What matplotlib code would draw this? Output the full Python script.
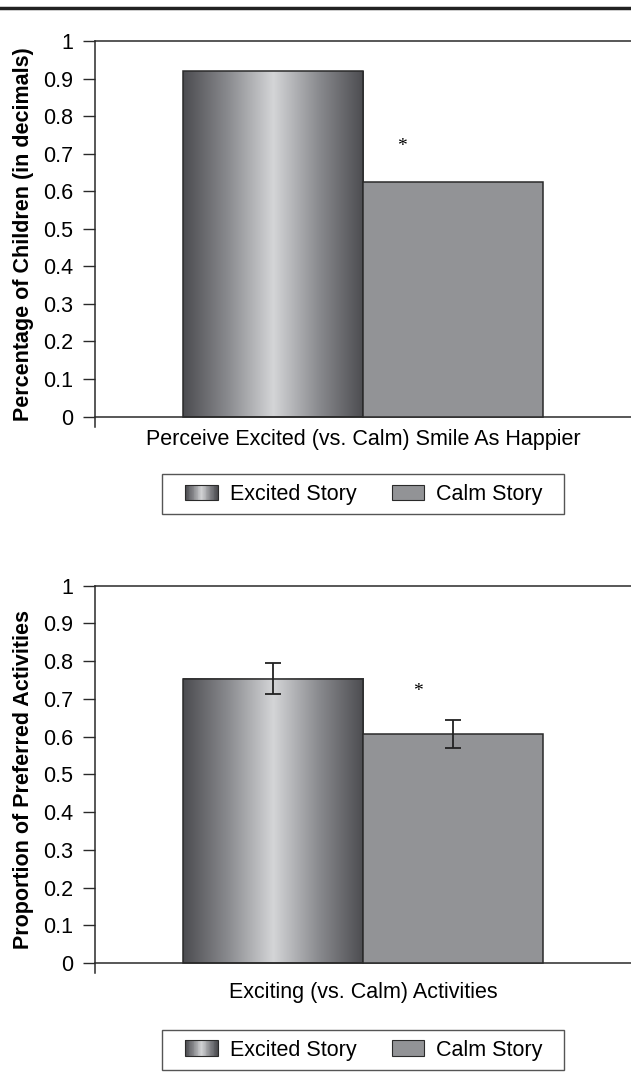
import matplotlib
matplotlib.use('Agg')
import matplotlib.pyplot as plt
import numpy as np
from matplotlib.colors import LinearSegmentedColormap
from matplotlib.legend_handler import HandlerBase
from matplotlib.patches import Rectangle, Patch
from matplotlib.lines import Line2D

plt.rcParams['font.family'] = ['Liberation Sans', 'DejaVu Sans']

# Data
stories = ['Excited Story', 'Calm Story']
happier = [0.92, 0.625]             # perceive excited smile as happier
preferred = [0.753, 0.606]          # proportion of preferred exciting activities
preferred_err = [0.041, 0.037]
yticks = [0, 0.1, 0.2, 0.3, 0.4, 0.5, 0.6, 0.7, 0.8, 0.9, 1]
ytick_labels = ['0', '0.1', '0.2', '0.3', '0.4', '0.5', '0.6', '0.7', '0.8', '0.9', '1']

FS = 15.5
calm_color = '#929396'
edge_color = '#2a2a2a'
cyl = LinearSegmentedColormap.from_list(
    'cyl', ['#4c4c50', '#8a8b8f', '#d4d5d7', '#8a8b8f', '#4c4c50'])
grad = np.linspace(0, 1, 256).reshape(1, -1)


class KeyHandler(HandlerBase):
    # legend key drawn at the right end of the handle box (extra left padding)
    def __init__(self, gradient, key_len=1.5):
        super().__init__()
        self.gradient = gradient
        self.key_len = key_len

    def create_artists(self, legend, orig_handle, xdescent, ydescent,
                       width, height, fontsize, trans):
        kw = self.key_len * fontsize
        x0 = -xdescent + width - kw
        y0 = -ydescent
        arts = []
        if self.gradient:
            n = 40
            for i in range(n):
                arts.append(Rectangle((x0 + kw * i / n, y0), kw / n + 0.3, height,
                                      facecolor=cyl(i / (n - 1)), edgecolor='none',
                                      transform=trans))
            face = 'none'
        else:
            face = calm_color
        arts.append(Rectangle((x0, y0), kw, height, facecolor=face,
                              edgecolor=edge_color, lw=0.8, transform=trans))
        return arts


def draw_panel(ax, values, ylabel, xlabel, star_x, xlabel_off, err=None):
    width = 0.336
    xs = [0.5 - width / 2, 0.5 + width / 2]
    bars = ax.bar(xs, values, width=width, color=['none', calm_color],
                  edgecolor=edge_color, linewidth=1.1, zorder=3)
    # gradient inside the excited bar
    b = bars[0]
    ax.imshow(grad, cmap=cyl, aspect='auto', zorder=2,
              extent=(b.get_x(), b.get_x() + b.get_width(), 0, b.get_height()))
    if err is not None:
        ax.errorbar(xs, values, yerr=err, fmt='none', ecolor='#222222',
                    elinewidth=1.3, capsize=5.5, capthick=1.3, zorder=4)
    ax.text(star_x, 0.72, '*', family='Liberation Serif', fontsize=14,
            ha='center', va='center')

    ax.set_xlim(0, 1)
    ax.set_ylim(-0.027, 1)
    ax.set_yticks(yticks)
    ax.set_yticklabels(ytick_labels)
    ax.set_xticks([])
    ax.spines['right'].set_visible(False)
    ax.spines['bottom'].set_position(('data', 0))
    for s in ['left', 'top', 'bottom']:
        ax.spines[s].set_color(edge_color)
        ax.spines[s].set_linewidth(1.1)
    ax.tick_params(axis='y', direction='out', length=8.6, width=1.0,
                   color=edge_color, labelsize=FS, pad=7)
    ax.set_ylabel(ylabel, fontsize=FS, fontweight='bold', labelpad=6.5)
    ax.annotate(xlabel, xy=(0.5, 0.027), xycoords='axes fraction',
                xytext=(0, xlabel_off), textcoords='offset points',
                ha='center', va='top', fontsize=FS)


fig = plt.figure(figsize=(6.31, 10.72), dpi=100)

ax1 = fig.add_axes([0.1506, 0.6020, 0.8494, 0.3598])
draw_panel(ax1, happier, 'Percentage of Children (in decimals)',
           'Perceive Excited (vs. Calm) Smile As Happier', 0.573, -9.5)

ax2 = fig.add_axes([0.1506, 0.0920, 0.8494, 0.3616])
draw_panel(ax2, preferred, 'Proportion of Preferred Activities',
           'Exciting (vs. Calm) Activities', 0.603, -13.5, err=preferred_err)

handles = [Patch(label=stories[0]), Patch(label=stories[1] + '  ')]
for center_y in [0.539, 0.0205]:
    leg = fig.legend(handles=handles, loc='center', bbox_to_anchor=(0.575, center_y),
                     ncol=2, fontsize=FS, frameon=True, fancybox=False,
                     handler_map={handles[0]: KeyHandler(True),
                                  handles[1]: KeyHandler(False)},
                     handlelength=2.15, handleheight=0.7, columnspacing=1.0,
                     borderpad=0.45, handletextpad=0.55, borderaxespad=0)
    leg.get_frame().set_edgecolor(edge_color)
    leg.get_frame().set_linewidth(1.0)

# rule along the top of the page
fig.add_artist(Line2D([0, 1], [0.9925, 0.9925], transform=fig.transFigure,
                      color='#222222', lw=2.5))

fig.savefig('out.png', dpi=100)
